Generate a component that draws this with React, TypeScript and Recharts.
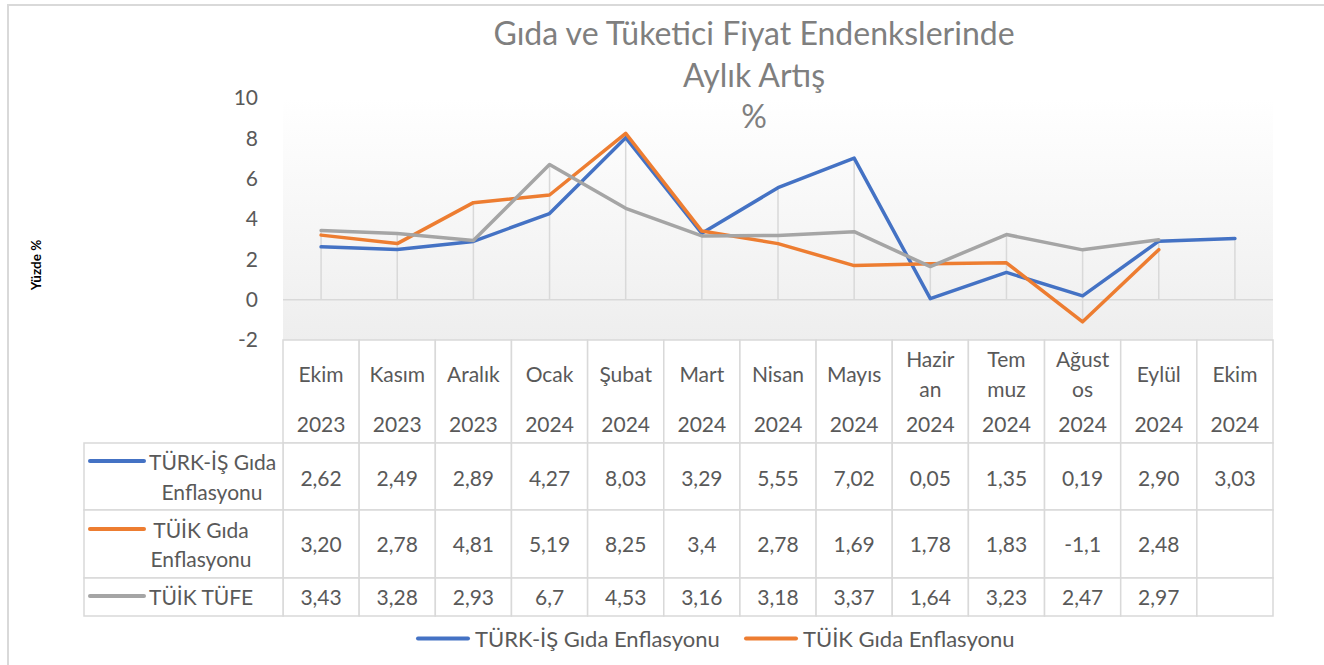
import React from "react";
import { LineChart, Line, XAxis, YAxis, CartesianGrid, ReferenceLine } from "recharts";

// ---------------------------------------------------------------------------
// Data (as written in the source sheet, Turkish decimal comma)
// ---------------------------------------------------------------------------
const months = ["Ekim", "Kasım", "Aralık", "Ocak", "Şubat", "Mart", "Nisan", "Mayıs", "Hazir\nan", "Tem\nmuz", "Ağust\nos", "Eylül", "Ekim"];
const years = ["2023", "2023", "2023", "2024", "2024", "2024", "2024", "2024", "2024", "2024", "2024", "2024", "2024"];
const turkIsGida = ["2,62", "2,49", "2,89", "4,27", "8,03", "3,29", "5,55", "7,02", "0,05", "1,35", "0,19", "2,90", "3,03"];
const tuikGida = ["3,20", "2,78", "4,81", "5,19", "8,25", "3,4", "2,78", "1,69", "1,78", "1,83", "-1,1", "2,48", ""];
const tuikTufe = ["3,43", "3,28", "2,93", "6,7", "4,53", "3,16", "3,18", "3,37", "1,64", "3,23", "2,47", "2,97", ""];
const yTicks = [-2, 0, 2, 4, 6, 8, 10];

const series = [
  { key: "turkIs", name: "TÜRK-İŞ Gıda Enflasyonu", color: "#4472C4", values: turkIsGida, inLegend: true },
  { key: "tuikGida", name: "TÜİK Gıda Enflasyonu", color: "#ED7D31", values: tuikGida, inLegend: true },
  { key: "tuikTufe", name: "TÜİK TÜFE", color: "#A5A5A5", values: tuikTufe, inLegend: false },
];

const toNum = (s: string) => (s === "" ? null : parseFloat(s.replace(",", ".")));

const data = months.map((m, i) => {
  const row: Record<string, any> = { key: `${m.replace("\n", "")} ${years[i]}`, idx: i };
  series.forEach((s) => (row[s.key] = toNum(s.values[i])));
  return row;
});

// drop lines: from highest point of the category down to the axis (or lowest point if negative)
const dropLines = data.map((row) => {
  const vals = series.map((s) => row[s.key]).filter((v) => v !== null) as number[];
  return { key: row.key, top: Math.max(...vals), bottom: Math.min(0, ...vals) };
});

// ---------------------------------------------------------------------------
// Layout / style
// ---------------------------------------------------------------------------
const FONT = "Lato, 'Open Sans', sans-serif";
const TXT = "#595959";
const BORDER = "#d9d9d9";
const COL_W = 990 / 13;
const LEG_W = 199;
const FS = 21;
// table rows relative to the category axis top
const HEAD_H = 103;
const rowEdges = [103, 170, 238, 276];
const valueY = [137, 203, 256];
// left legend column: text lines per series
const legendCells = [
  { lineY: 121, lines: [{ t: "TÜRK-İŞ Gıda", x: 65, y: 121, anchor: "start" }, { t: "Enflasyonu", x: 128, y: 151, anchor: "middle" }] },
  { lineY: 189, lines: [{ t: "TÜİK Gıda", x: 117, y: 189, anchor: "middle" }, { t: "Enflasyonu", x: 117, y: 218, anchor: "middle" }] },
  { lineY: 256, lines: [{ t: "TÜİK TÜFE", x: 65, y: 256, anchor: "start" }] },
];

function TableColumn(props: any) {
  const { x, y, index } = props;
  const i = index ?? props.payload?.index ?? 0;
  const left = x - COL_W / 2;
  const monthLines = months[i].split("\n");
  return (
    <g fontFamily={FONT} fontSize={FS} fill={TXT}>
      <rect x={left} y={y} width={COL_W} height={HEAD_H} fill="#fff" stroke={BORDER} strokeWidth={1.5} />
      {rowEdges.slice(0, 3).map((top, r) => (
        <rect key={r} x={left} y={y + top} width={COL_W} height={rowEdges[r + 1] - top} fill="#fff" stroke={BORDER} strokeWidth={1.5} />
      ))}
      {monthLines.length === 1 ? (
        <text x={x} y={y + 33} textAnchor="middle" dominantBaseline="central">{monthLines[0]}</text>
      ) : (
        monthLines.map((t, k) => (
          <text key={k} x={x} y={y + 18 + k * 30} textAnchor="middle" dominantBaseline="central">{t}</text>
        ))
      )}
      <text x={x} y={y + 83} textAnchor="middle" dominantBaseline="central">{years[i]}</text>
      {series.map((s, r) => (
        <text key={s.key} x={x} y={y + valueY[r]} textAnchor="middle" dominantBaseline="central">{s.values[i]}</text>
      ))}
      {i === 0 && (
        <g>
          {rowEdges.slice(0, 3).map((top, r) => (
            <rect key={r} x={left - LEG_W} y={y + top} width={LEG_W} height={rowEdges[r + 1] - top} fill="#fff" stroke={BORDER} strokeWidth={1.5} />
          ))}
          {legendCells.map((c, r) => (
            <g key={r}>
              <line x1={left - LEG_W + 6} x2={left - LEG_W + 60} y1={y + c.lineY} y2={y + c.lineY} stroke={series[r].color} strokeWidth={4} strokeLinecap="round" />
              {c.lines.map((l, k) => (
                <text key={k} x={left - LEG_W + l.x} y={y + l.y} textAnchor={l.anchor as any} dominantBaseline="central">{l.t}</text>
              ))}
            </g>
          ))}
        </g>
      )}
    </g>
  );
}

export default function App() {
  return (
    <div style={{ position: "absolute", left: 0, top: 0, width: 1324, height: 665, overflow: "hidden", background: "#fff", fontFamily: FONT }}>
      <div style={{ position: "absolute", left: 7, top: 4, width: 1400, height: 800, border: `2px solid ${BORDER}`, boxSizing: "border-box" }} />

      <div style={{ position: "absolute", left: 0, top: 0 }}>
        <LineChart width={1324} height={665} data={data} margin={{ top: 98, right: 51, left: 0, bottom: 49 }}>
          <defs>
            <linearGradient id="plotBg" x1="0" y1="0" x2="0" y2="1">
              <stop offset="0%" stopColor="#ffffff" />
              <stop offset="100%" stopColor="#eeeeee" />
            </linearGradient>
          </defs>
          <CartesianGrid horizontal={false} vertical={false} fill="url(#plotBg)" fillOpacity={1} />
          <XAxis
            dataKey="key"
            interval={0}
            height={276}
            padding={{ left: COL_W / 2, right: COL_W / 2 }}
            tickLine={false}
            axisLine={false}
            tickSize={0}
            tickMargin={0}
            tick={(p: any) => <TableColumn {...p} />}
          />
          <YAxis
            width={283}
            domain={[-2, 10]}
            ticks={yTicks}
            interval={0}
            tickLine={false}
            axisLine={false}
            tickSize={0}
            tickMargin={25}
            tick={{ fill: TXT, fontSize: FS, fontFamily: FONT }}
          />
          <ReferenceLine y={0} stroke={BORDER} strokeWidth={1.5} />
          {dropLines.map((d) => (
            <ReferenceLine
              key={d.key}
              segment={[{ x: d.key, y: d.top }, { x: d.key, y: d.bottom }]}
              stroke={BORDER}
              strokeWidth={1.5}
            />
          ))}
          {series.map((s) => (
            <Line
              key={s.key}
              dataKey={s.key}
              name={s.name}
              type="linear"
              stroke={s.color}
              strokeWidth={3.5}
              strokeLinejoin="round"
              strokeLinecap="round"
              dot={false}
              activeDot={false}
              connectNulls={false}
              isAnimationActive={false}
            />
          ))}
        </LineChart>
      </div>

      {/* title */}
      <div style={{ position: "absolute", left: 354, top: 12, width: 800, textAlign: "center", color: "#7f7f7f", fontSize: 32, lineHeight: "41.5px", pointerEvents: "none" }}>
        Gıda ve Tüketici Fiyat Endenkslerinde<br />Aylık Artış<br />%
      </div>

      {/* axis title */}
      <div style={{ position: "absolute", left: 36, top: 265, transform: "translate(-50%, -50%) rotate(-90deg)", fontSize: 13.5, fontWeight: 700, color: "#000", whiteSpace: "nowrap" }}>
        Yüzde %
      </div>

      {/* legend */}
      {series.filter((s) => s.inLegend).map((s, k) => (
        <div key={s.key} style={{ position: "absolute", left: k === 0 ? 416 : 744, top: 638, transform: "translateY(-50%)", display: "flex", alignItems: "center", fontSize: 22, color: TXT, whiteSpace: "nowrap" }}>
          <span style={{ display: "inline-block", width: 54, height: 4, borderRadius: 2, background: s.color, marginRight: 5 }} />
          {s.name}
        </div>
      ))}
    </div>
  );
}
